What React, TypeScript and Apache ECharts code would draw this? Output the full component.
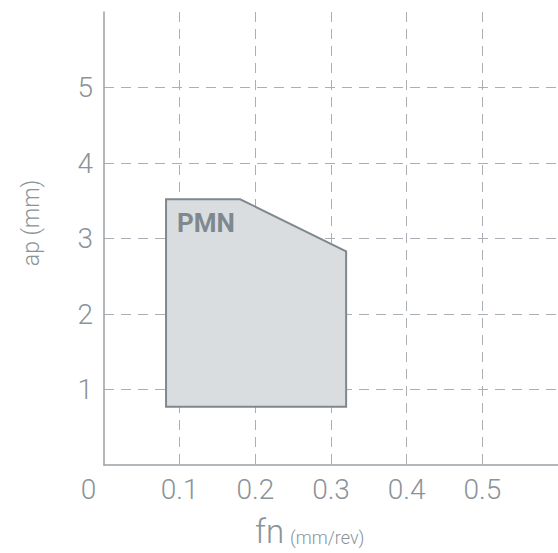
import React, { useEffect, useRef } from "react";
import * as echarts from "echarts";

// Operating window polygon vertices (feed fn in mm/rev, depth ap in mm)
const polyFn: number[] = [0.082, 0.082, 0.18, 0.32, 0.32];
const polyAp: number[] = [0.77, 3.52, 3.52, 2.83, 0.77];
const regionLabel = "PMN";

const xMin = 0;
const xMax = 0.6;
const xStep = 0.1;
const yMin = 0;
const yMax = 6;
const yStep = 1;

const xName = "fn";
const xUnit = "(mm/rev)";
const yName = "ap (mm)";

const TEXT = "#8a9399";
const AXIS = "#9aa1a7";
const GRID = "#a9afb4";
const FILL = "#d9dde0";
const EDGE = "#7f888f";
const FONT = "Roboto, 'Liberation Sans', sans-serif";

export default function App() {
  const ref = useRef<HTMLDivElement>(null);

  useEffect(() => {
    if (!ref.current) return;
    const chart = echarts.init(ref.current, undefined, { renderer: "svg" });

    const option: any = {
      animation: false,
      backgroundColor: "#ffffff",
      grid: { left: 104, right: 0, top: 12, bottom: 88, containLabel: false },
      xAxis: {
        type: "value",
        min: xMin,
        max: xMax,
        interval: xStep,
        axisLine: { show: true, lineStyle: { color: AXIS, width: 1.5 } },
        axisTick: { show: false },
        axisLabel: {
          showMaxLabel: false,
          margin: 10,
          color: TEXT,
          fontFamily: FONT,
          fontWeight: 300,
          fontSize: 28,
          formatter: (v: number) => (v === 0 ? "{z|0}" : v.toFixed(1)),
          rich: {
            z: {
              color: TEXT,
              fontFamily: FONT,
              fontWeight: 300,
              fontSize: 28,
              padding: [0, 31, 0, 0],
            },
          },
        },
        splitLine: {
          show: true,
          showMinLine: false,
          showMaxLine: false,
          lineStyle: { color: GRID, width: 1, type: [10, 7] },
        },
      },
      yAxis: {
        type: "value",
        min: yMin,
        max: yMax,
        interval: yStep,
        axisLine: { show: true, lineStyle: { color: AXIS, width: 1.5 } },
        axisTick: { show: false },
        axisLabel: {
          showMinLabel: false,
          showMaxLabel: false,
          margin: 11,
          color: TEXT,
          fontFamily: FONT,
          fontWeight: 300,
          fontSize: 28,
        },
        splitLine: {
          show: true,
          showMinLine: false,
          showMaxLine: false,
          lineStyle: { color: GRID, width: 1, type: [10, 7] },
        },
      },
      graphic: [
        {
          type: "text",
          x: 31,
          y: 223,
          rotation: Math.PI / 2,
          style: {
            text: yName,
            fill: TEXT,
            font: `300 23px ${FONT}`,
            align: "center",
            verticalAlign: "middle",
          },
        },
        {
          type: "text",
          x: 255,
          y: 531,
          style: {
            text: xName,
            fill: TEXT,
            font: `300 33px ${FONT}`,
            align: "left",
            verticalAlign: "middle",
          },
        },
        {
          type: "text",
          x: 290,
          y: 537,
          style: {
            text: xUnit,
            fill: TEXT,
            font: `300 18px ${FONT}`,
            align: "left",
            verticalAlign: "middle",
          },
        },
      ],
      series: [
        {
          type: "custom",
          clip: false,
          data: [[polyFn[0], polyAp[0]]],
          renderItem: (_params: any, api: any) => {
            const pts = polyFn.map((f, i) => api.coord([f, polyAp[i]]));
            const labelAnchor = api.coord([polyFn[1], polyAp[1]]);
            return {
              type: "group",
              children: [
                {
                  type: "polygon",
                  shape: { points: pts },
                  style: { fill: FILL, stroke: EDGE, lineWidth: 2 },
                },
                {
                  type: "text",
                  x: labelAnchor[0] + 11,
                  y: labelAnchor[1] + 11,
                  style: {
                    text: regionLabel,
                    fill: EDGE,
                    font: `bold 26px ${FONT}`,
                    align: "left",
                    verticalAlign: "top",
                  },
                },
              ],
            };
          },
        },
      ],
    };

    chart.setOption(option);
    return () => chart.dispose();
  }, []);

  return (
    <div
      ref={ref}
      style={{ position: "fixed", left: 0, top: 0, width: 558, height: 553 }}
    />
  );
}
